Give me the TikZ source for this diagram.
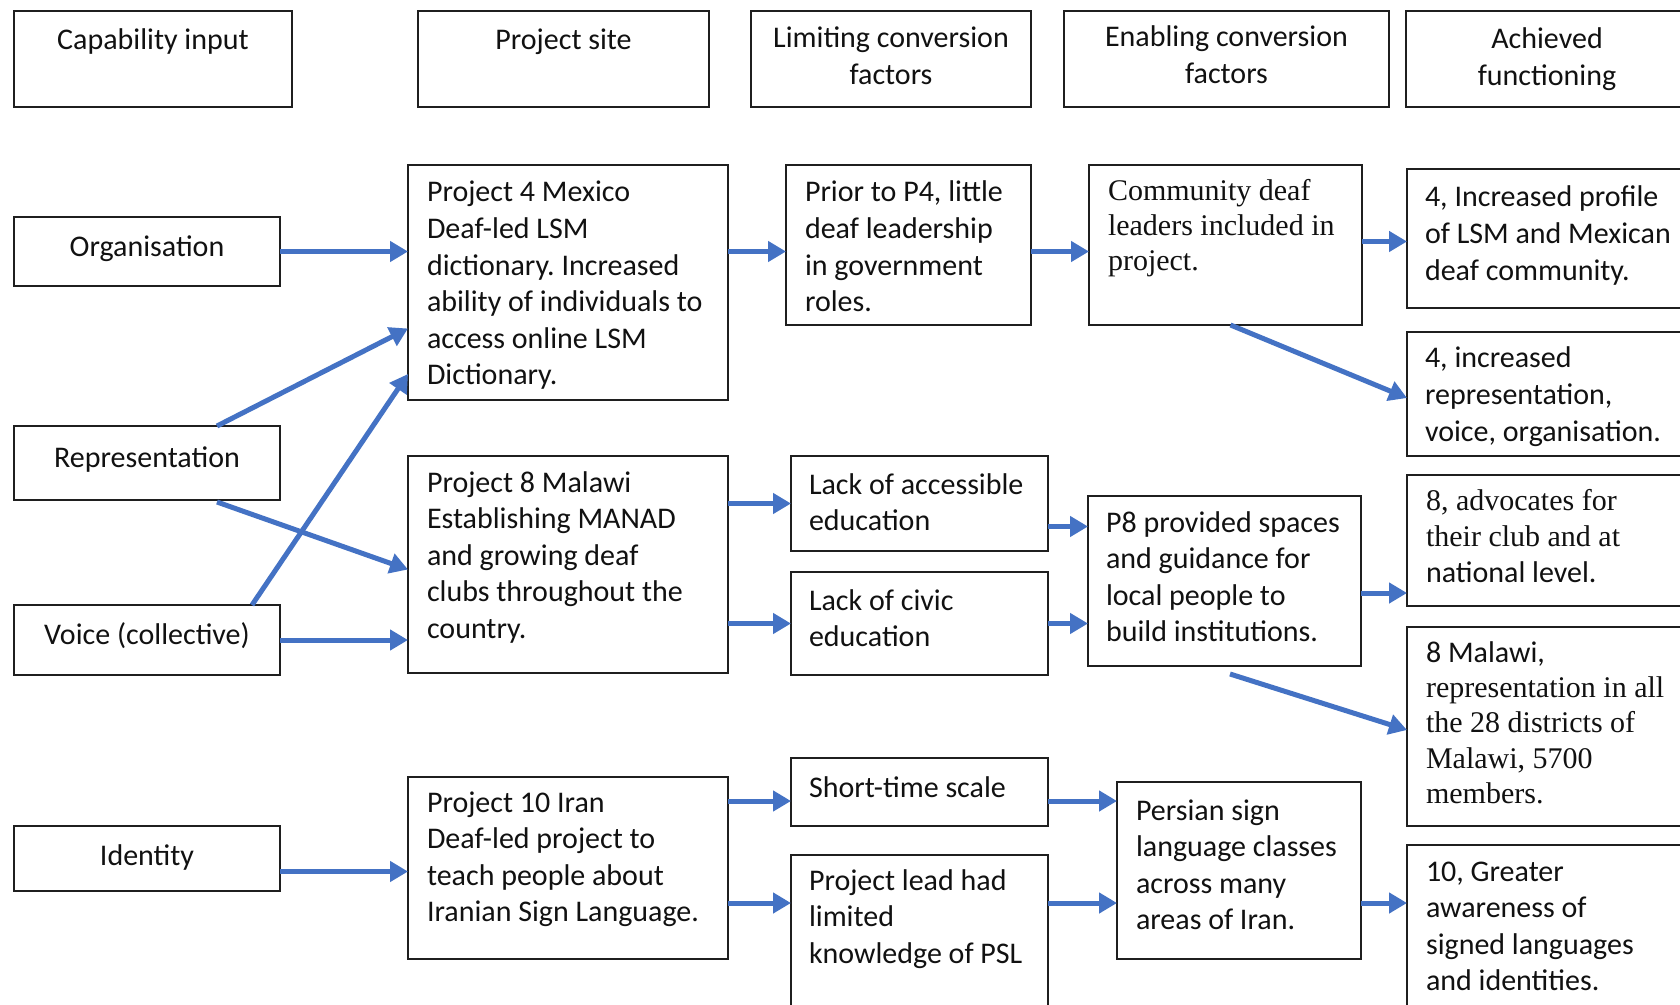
\documentclass[tikz,border=0pt]{standalone}
\usepackage{fontspec}
\setmainfont{Carlito}
\newfontfamily\tms{Liberation Serif}
\usetikzlibrary{arrows.meta,calc}
\definecolor{arrblue}{HTML}{4472C4}
\definecolor{boxline}{HTML}{1F1F1F}
\definecolor{txt}{HTML}{111111}
\frenchspacing
\tikzset{
  box/.style={draw=boxline, line width=1pt, anchor=north west, inner sep=0pt, outer sep=0pt},
  txtl/.style={anchor=base west, inner sep=0pt, outer sep=0pt, text=txt},
  txtc/.style={anchor=base, inner sep=0pt, outer sep=0pt, text=txt},
  arr/.style={draw=arrblue, line width=2.5pt, -{Triangle[length=9pt,width=10pt]}},
}
% box: name, x1, y1, x2, y2 (pixel units)
\newcommand\mybox[5]{\node[box, minimum width={(#4-#2)*0.5pt}, minimum height={(#5-#3)*0.5pt}] (#1) at (#2,#3) {};}
% left text: [skip] name, x, baseline, text
\newcommand\ltext[5][18.3pt]{\node[txtl] (#2) at (#3,#4) {\parbox[t]{300pt}{\raggedright\frenchspacing\fontsize{15pt}{#1}\selectfont #5}};}
% centred text
\newcommand\ctext[4]{\node[txtc] (#1) at (#2,#3) {\parbox[t]{200pt}{\centering\fontsize{15pt}{18.4pt}\selectfont #4}};}
\begin{document}
\begin{tikzpicture}[x=0.5pt,y=-0.5pt]
\fill[white] (0,0) rectangle (1680,1005);
\useasboundingbox (0,0) rectangle (1680,1005);

% headers
\mybox{h1}{14}{11}{292}{107}
\mybox{h2}{418}{11}{709}{107}
\mybox{h3}{751}{11}{1031}{107}
\mybox{h4}{1064}{11}{1389}{107}
\mybox{h5}{1406}{11}{1688}{107}
\ctext{h1t}{153}{50}{Capability input}
\ctext{h2t}{563.5}{50}{Project site}
\ctext{h3t}{891}{48}{Limiting conversion\\factors}
\ctext{h4t}{1226.5}{47}{Enabling conversion\\factors}
\ctext{h5t}{1547}{49}{Achieved\\functioning}

% capability inputs
\mybox{org}{14}{217}{280}{286}
\mybox{rep}{14}{426}{280}{500}
\mybox{voice}{14}{605}{280}{675}
\mybox{ident}{14}{826}{280}{891}
\ctext{orgt}{147}{257}{Organisation}
\ctext{rept}{147}{467}{Representation}
\ctext{voicet}{147}{644}{Voice (collective)}
\ctext{identt}{147}{865}{Identity}

% project sites
\mybox{p4}{408}{165}{728}{400}
\mybox{p8}{408}{456}{728}{673}
\mybox{p10}{408}{777}{728}{959}
\ltext{p4t}{427}{202}{Project 4 Mexico\\Deaf-led LSM\\dictionary. Increased\\ability of individuals to\\access online LSM\\Dictionary.}
\ltext{p8t}{427}{492}{Project 8 Malawi\\Establishing MANAD\\and growing deaf\\clubs throughout the\\country.}
\ltext{p10t}{427}{812}{Project 10 Iran\\Deaf-led project to\\teach people about\\Iranian Sign Language.}

% limiting factors
\mybox{prior}{786}{165}{1031}{325}
\mybox{lacc}{791}{456}{1048}{551}
\mybox{lciv}{791}{572}{1048}{675}
\mybox{short}{791}{758}{1048}{826}
\mybox{plead}{791}{855}{1048}{1020}
\ltext{priort}{805}{202}{Prior to P4, little\\deaf leadership\\in government\\roles.}
\ltext{lacct}{809}{494}{Lack of accessible\\education}
\ltext{lcivt}{809}{610}{Lack of civic\\education}
\ltext{shortt}{809}{797}{Short-time scale}
\ltext{pleadt}{809}{890}{Project lead had\\limited\\knowledge of PSL}

% enabling factors
\mybox{comm}{1089}{165}{1362}{325}
\mybox{p8prov}{1088}{496}{1361}{666}
\mybox{pers}{1117}{782}{1361}{959}
\ltext[17.5pt]{commt}{1108}{201}{\tms Community deaf\\leaders included in\\project.}
\ltext{p8provt}{1106}{532}{P8 provided spaces\\and guidance for\\local people to\\build institutions.}
\ltext{perst}{1136}{820}{Persian sign\\language classes\\across many\\areas of Iran.}

% achieved functionings
\mybox{r1}{1407}{169}{1688}{308}
\mybox{r2}{1407}{332}{1688}{456}
\mybox{r3}{1407}{475}{1688}{606}
\mybox{r4}{1407}{627}{1688}{826}
\mybox{r5}{1407}{845}{1688}{1020}
\ltext{r1t}{1425}{207}{4, Increased profile\\of LSM and Mexican\\deaf community.}
\ltext{r2t}{1425}{368}{4, increased\\representation,\\voice, organisation.}
\ltext[18pt]{r3t}{1426}{510}{{\tms 8, advocates for}\\{\tms their club and at}\\national level.}
\ltext[17.7pt]{r4t}{1426}{662}{8 Malawi,\\{\tms representation in all}\\{\tms the 28 districts of}\\{\tms Malawi, 5700}\\{\tms members.}}
\ltext{r5t}{1426}{881}{10, Greater\\awareness of\\signed languages\\and identities.}

% connectors: inputs to projects
\draw[arr] (org.east) -- (org.east -| p4.west);
\draw[arr] ($(rep.north)+(70,0)$) -- ($(p4.west)+(0,46)$);
\draw[arr] ($(voice.north)+(105,0)$) -- ($(p4.west)+(0,91.5)$);
\draw[arr] ($(rep.south)+(70,2)$) -- ($(p8.west)+(0,5)$);
\draw[arr] (voice.east) -- (voice.east -| p8.west);
\draw[arr] ($(ident.east)+(0,13)$) coordinate (idrow) -- (idrow -| p10.west);

% projects to limiting factors
\draw[arr] (p4.east |- org.east) -- (prior.west |- org.east);
\draw[arr] (p8.east |- lacc.west) -- (lacc.west);
\draw[arr] (p8.east |- lciv.west) -- (lciv.west);
\coordinate (shrow) at ($(short.west)+(0,9)$);
\draw[arr] (p10.east |- shrow) -- (shrow);
\draw[arr] ($(p10.east)+(0,35)$) coordinate (lowrow) -- (lowrow -| plead.west);

% limiting to enabling
\draw[arr] (prior.east |- org.east) -- (comm.west |- org.east);
\draw[arr] ($(lacc.east)+(0,23)$) coordinate (larow) -- (larow -| p8prov.west);
\draw[arr] (lciv.east) -- (lciv.east -| p8prov.west);
\draw[arr] (shrow -| short.east) -- (shrow -| pers.west);
\draw[arr] (lowrow -| plead.east) -- (lowrow -| pers.west);

% enabling to achieved
\coordinate (r1row) at ($(r1.west)+(0,3)$);
\draw[arr] (comm.east |- r1row) -- (r1row);
\draw[arr] ($(comm.south)+(5,0)$) -- ($(r2.west)+(0,4)$);
\draw[arr] ($(p8prov.east)+(0,12)$) coordinate (p8row) -- (p8row -| r3.west);
\draw[arr] ($(p8prov.south)+(5.5,8)$) -- ($(r4.west)+(0,3.5)$);
\draw[arr] (lowrow -| pers.east) -- (lowrow -| r5.west);
\end{tikzpicture}
\end{document}
